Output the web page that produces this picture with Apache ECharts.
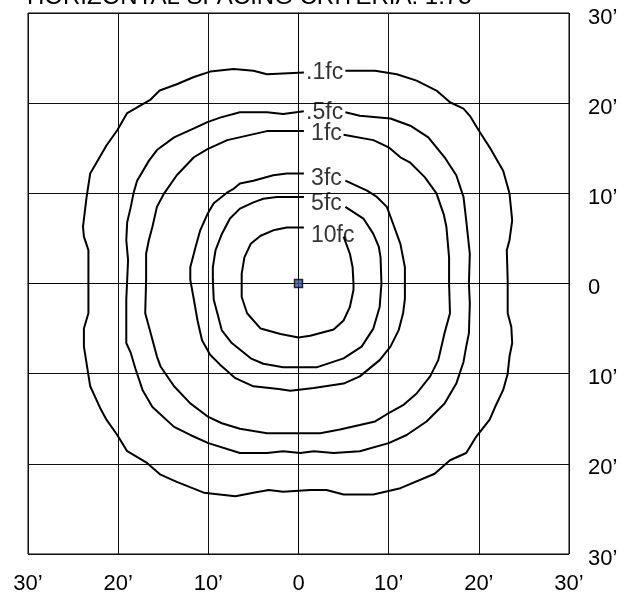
<!DOCTYPE html>
<html>
<head>
<meta charset="utf-8">
<title>Isofootcandle plot</title>
<script src="https://cdn.jsdelivr.net/npm/echarts@6/dist/echarts.min.js"></script>
<style>
  html, body { margin: 0; padding: 0; background: #fff; }
  #chart { width: 639px; height: 600px; }
</style>
</head>
<body>
<div id="chart"></div>
<script>
// tick labels, feet from the fixture (same on both sides of 0)
var tickLabels = ['30\u2019', '20\u2019', '10\u2019', '0', '10\u2019', '20\u2019', '30\u2019'];

// contour lines in feet, each one starts right of its label and goes clockwise
var c01 = [[5.2,23.6],[8.5,23.6],[10.9,23.2],[13.1,22.5],[15.3,21.4],[16.8,20.1],[18.3,19.4],[19.0,18.6],[20.1,16.8],[21.2,15.1],[22.7,12.5],[23.4,10.0],[23.7,7.0],[23.4,4.8],[23.1,3.7],[23.2,0.4],[23.2,-3.3],[23.6,-4.8],[23.7,-6.6],[23.4,-8.1],[23.2,-10.0],[22.7,-11.8],[21.8,-13.7],[21.2,-15.1],[19.7,-17.0],[18.6,-18.8],[16.8,-19.6],[15.1,-21.1],[11.3,-22.7],[8.3,-23.4],[5.0,-23.4],[3.1,-22.9],[1.3,-22.9],[-1.7,-23.1],[-3.3,-22.9],[-5.0,-23.2],[-7.0,-23.6],[-10.5,-23.2],[-13.5,-22.0],[-15.3,-21.2],[-16.8,-19.9],[-19.0,-18.6],[-20.1,-16.8],[-21.3,-15.1],[-22.0,-13.8],[-23.1,-11.4],[-23.8,-7.0],[-23.8,-5.0],[-23.3,-3.3],[-23.3,3.7],[-23.8,5.2],[-23.9,6.3],[-23.5,9.6],[-23.1,12.2],[-21.3,15.3],[-20.1,17.0],[-19.0,18.9],[-16.4,20.4],[-15.4,21.4],[-13.5,22.1],[-11.6,22.9],[-9.8,23.5],[-7.2,23.8],[-5.0,23.6],[-3.5,23.2],[0.6,23.4]];
var c05 = [[5.2,19.0],[6.8,18.6],[10.2,18.3],[12.4,17.5],[14.4,16.2],[16.2,14.0],[17.5,12.0],[18.3,9.6],[18.6,7.0],[19.0,3.3],[18.9,0],[19.0,-2.2],[18.9,-5.5],[18.6,-7.0],[18.3,-8.7],[17.5,-11.1],[16.2,-13.3],[14.2,-15.3],[12.0,-16.8],[10.0,-17.7],[6.8,-18.6],[3.9,-18.8],[1.7,-18.6],[0.2,-18.8],[-1.7,-18.6],[-3.5,-18.8],[-6.5,-18.8],[-10.0,-17.7],[-12.0,-16.8],[-13.8,-15.9],[-16.2,-13.7],[-17.3,-11.8],[-18.1,-9.4],[-18.6,-7.7],[-19.1,-6.6],[-19.1,-1.8],[-18.9,2.6],[-19.1,4.8],[-19.0,6.8],[-18.6,8.5],[-18.3,10.0],[-17.9,11.4],[-16.6,13.6],[-15.7,14.8],[-13.8,16.2],[-11.6,17.2],[-10.1,17.9],[-8.7,18.4],[-6.5,19.0],[-3.5,19.0],[-1.7,18.8],[0.6,19.1]];
var c1 = [[5.0,16.5],[8.3,15.9],[10.0,15.1],[11.3,14.0],[12.4,13.4],[14.0,11.8],[15.3,10.0],[16.1,7.7],[16.4,6.3],[16.7,2.9],[16.7,0],[16.8,-3.3],[16.2,-5.5],[15.5,-8.5],[14.6,-10.3],[13.1,-12.2],[11.6,-13.5],[9.8,-14.5],[8.5,-15.3],[6.8,-15.7],[4.6,-16.2],[2.4,-16.6],[-0.9,-16.6],[-3.5,-16.6],[-6.5,-16.1],[-8.5,-15.5],[-10.0,-14.8],[-12.0,-13.3],[-13.8,-11.4],[-15.3,-9.2],[-15.7,-8.1],[-16.4,-5.5],[-17.0,-3.3],[-16.9,0.4],[-16.9,3.3],[-16.6,4.8],[-16.2,6.3],[-15.7,8.5],[-14.9,10.0],[-13.5,12.0],[-11.6,14.0],[-10.1,14.9],[-7.9,15.9],[-5.7,16.4],[-3.5,16.9],[0.6,16.9]];
var c3 = [[5.2,11.4],[7.6,10.3],[8.7,9.6],[9.8,8.5],[10.5,6.6],[11.3,4.4],[11.8,1.8],[11.8,0],[11.8,-1.7],[11.6,-3.3],[11.1,-5.2],[10.2,-7.0],[9.0,-8.5],[6.8,-10.3],[5.0,-11.1],[1.7,-11.6],[-0.9,-11.9],[-2.2,-11.7],[-5.0,-11.4],[-7.0,-10.5],[-8.7,-9.0],[-9.8,-7.9],[-10.7,-6.3],[-11.2,-4.1],[-11.6,-1.8],[-12.0,0.4],[-12.0,1.8],[-11.4,4.1],[-10.9,5.9],[-10.1,7.7],[-9.4,8.9],[-7.9,10.1],[-7.2,10.5],[-6.5,11.1],[-5.0,11.4],[-2.8,12.0],[-1.3,12.2],[0.6,12.2]];
var c5 = [[5.2,8.5],[7.2,7.2],[8.3,5.5],[8.9,4.1],[9.1,2.9],[9.2,0],[9.0,-2.6],[8.3,-5.0],[7.0,-7.0],[5.0,-8.3],[2.0,-9.3],[-0.9,-9.3],[-1.7,-9.3],[-3.9,-8.9],[-5.3,-8.3],[-7.4,-6.6],[-8.5,-5.2],[-9.0,-3.3],[-9.4,-1.8],[-9.5,0.4],[-9.5,1.8],[-9.2,3.7],[-8.5,5.5],[-7.6,7.2],[-6.5,8.3],[-5.0,9.0],[-3.9,9.4],[-2.4,9.6],[0.6,9.6]];
var c10 = [[5.0,5.2],[5.7,3.3],[6.0,1.8],[6.1,0],[6.1,-0.7],[5.7,-2.6],[5.0,-4.1],[3.9,-5.1],[1.3,-5.8],[0,-6.0],[-2.0,-5.6],[-4.2,-5.0],[-5.7,-3.3],[-6.3,-1.5],[-6.3,0.4],[-6.3,1.1],[-6.0,2.9],[-5.3,4.4],[-4.2,5.3],[-2.8,5.9],[-1.3,6.2],[0.6,6.2]];

var contours = [c01, c05, c1, c3, c5, c10];
var contourNames = ['.1fc', '.5fc', '1fc', '3fc', '5fc', '10fc'];
// where each name sits on its line (feet)
var contourLabelAt = [[2.9,23.4],[2.9,18.9],[3.1,16.6],[3.1,11.6],[3.1,8.9],[3.8,5.3]];
var fixture = [[0, 0]];

var FONT = 'Arial, "Liberation Sans", sans-serif';

function tickText(v) {
  var i = Math.round((v + 30) / 10);
  return tickLabels[i] != null ? tickLabels[i] : '';
}

var chart = echarts.init(document.getElementById('chart'), null, { renderer: 'canvas' });

var series = [];
contours.forEach(function (c, i) {
  series.push({
    name: contourNames[i],
    type: 'line',
    data: c,
    symbol: 'none',
    smooth: false,
    lineStyle: { color: '#000', width: 2 },
    z: 3
  });
});

// contour names, drawn as text only
series.push({
  type: 'scatter',
  symbolSize: 0,
  data: contourLabelAt.map(function (p, i) { return { name: contourNames[i], value: p }; }),
  label: {
    show: true,
    position: 'inside',
    formatter: '{b}',
    color: '#000',
    fontSize: 23,
    fontFamily: FONT
  },
  z: 4
});

// the fixture itself
series.push({
  type: 'scatter',
  data: fixture,
  symbol: 'rect',
  symbolSize: 8,
  itemStyle: { color: '#3a55a4', borderColor: '#000', borderWidth: 1.5 },
  z: 5
});

var option = {
  animation: false,
  backgroundColor: '#fff',
  title: {
    text: 'HORIZONTAL SPACING CRITERIA: 1.75',
    left: 27,
    top: -15,
    padding: 0,
    textStyle: { color: '#000', fontSize: 24, fontWeight: 'normal', fontFamily: FONT }
  },
  grid: {
    left: 28, right: 70, top: 13, bottom: 46,
    show: true,
    borderColor: '#000',
    borderWidth: 1,
    containLabel: false
  },
  xAxis: {
    type: 'value',
    min: -30, max: 30, interval: 10,
    axisLine: { show: true, lineStyle: { color: '#000', width: 1 } },
    axisTick: { show: false },
    splitLine: { show: true, lineStyle: { color: '#111', width: 1 } },
    axisLabel: {
      margin: 19,
      color: '#000', fontSize: 22, fontFamily: FONT,
      showMinLabel: true, showMaxLabel: true,
      formatter: tickText
    }
  },
  yAxis: {
    type: 'value',
    position: 'right',
    min: -30, max: 30, interval: 10,
    axisLine: { show: true, lineStyle: { color: '#000', width: 1 } },
    axisTick: { show: false },
    splitLine: { show: true, lineStyle: { color: '#111', width: 1 } },
    axisLabel: {
      margin: 19,
      color: '#000', fontSize: 22, fontFamily: FONT,
      showMinLabel: true, showMaxLabel: true,
      // labels sit a little below their grid line in the original
      formatter: function (v) { return '{t|' + tickText(v) + '}'; },
      rich: {
        t: { fontSize: 22, fontFamily: FONT, color: '#000', padding: [9, 0, 0, 0] }
      }
    }
  },
  series: series
};

chart.setOption(option);
</script>
</body>
</html>
